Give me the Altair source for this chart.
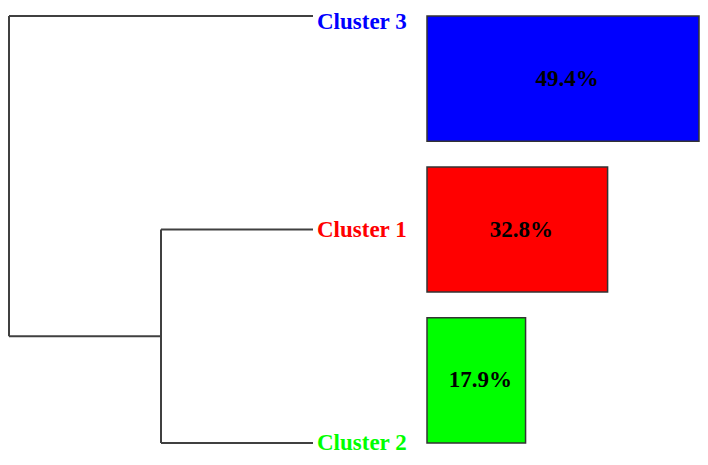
import altair as alt
import pandas as pd

# ---- data ----
clusters = ["Cluster 3", "Cluster 1", "Cluster 2"]      # leaf order, top to bottom
percentages = [49.4, 32.8, 17.9]                       # share of each cluster
colors = ["#0000FF", "#FF0000", "#00FF00"]
# linkage rows: (child a, child b, merge height); leaves are 0..2, new nodes 3, 4, ...
linkage = [(1, 2, 1.0), (0, 3, 2.0)]

# ---- build the dendrogram segments from the linkage ----
n = len(clusters)
node_y = {i: float(i) for i in range(n)}
node_h = {i: 0.0 for i in range(n)}
segs = []
for k, (a, b, h) in enumerate(linkage):
    for c in (a, b):
        segs.append({"x": node_h[c], "x2": h, "y": node_y[c], "y2": node_y[c]})
    segs.append({"x": h, "x2": h, "y": node_y[a], "y2": node_y[b]})
    node_y[n + k] = (node_y[a] + node_y[b]) / 2
    node_h[n + k] = h
seg_df = pd.DataFrame(segs)
leaf_df = pd.DataFrame({"cluster": clusters, "pos": list(range(n)), "h": [0.0] * n})
bar_df = pd.DataFrame({"cluster": clusters, "pct": percentages})

max_h = max(r[2] for r in linkage)
FONT = "Liberation Serif"
FS = 23
W1, SP, W2, H = 304, 114, 272, 427

xs = alt.Scale(domain=[0, max_h], reverse=True, nice=False, zero=False)
ys = alt.Scale(domain=[0, n - 1], reverse=True, nice=False, zero=False)
cscale = alt.Scale(domain=clusters, range=colors)

rules = alt.Chart(seg_df).mark_rule(color="#404040", strokeWidth=2).encode(
    x=alt.X("x:Q", scale=xs, axis=None),
    x2="x2:Q",
    y=alt.Y("y:Q", scale=ys, axis=None),
    y2="y2:Q",
)


def leaf_labels(dy, cond):
    return (
        alt.Chart(leaf_df)
        .transform_filter(cond)
        .mark_text(align="left", baseline="middle", dx=4, dy=dy, font=FONT,
                   fontSize=FS, fontWeight="bold")
        .encode(
            x=alt.X("h:Q", scale=xs, axis=None),
            y=alt.Y("pos:Q", scale=ys, axis=None),
            text="cluster:N",
            color=alt.Color("cluster:N", scale=cscale, legend=None),
        )
    )


left = alt.layer(
    rules,
    leaf_labels(6, "datum.pos == 0"),
    leaf_labels(0, "datum.pos > 0"),
).properties(width=W1, height=H)

ybar = alt.Y("cluster:N", sort=clusters, axis=None,
             scale=alt.Scale(paddingInner=0.17, paddingOuter=0))
xbar = alt.Scale(domain=[0, max(percentages)], nice=False)

bars = alt.Chart(bar_df).mark_bar(stroke="#333333", strokeWidth=1.5).encode(
    y=ybar,
    x=alt.X("pct:Q", scale=xbar, axis=None),
    color=alt.Color("cluster:N", scale=cscale, legend=None),
)
bar_text = (
    alt.Chart(bar_df)
    .transform_calculate(mid="datum.pct / 2", lab="format(datum.pct, '.1f') + '%'")
    .mark_text(font=FONT, fontSize=FS, fontWeight="bold", color="black", dx=4)
    .encode(y=ybar, x=alt.X("mid:Q", scale=xbar, axis=None), text="lab:N")
)
right = alt.layer(bars, bar_text).properties(width=W2, height=H)

chart = (
    alt.hconcat(left, right, spacing=SP, bounds="flush")
    .properties(padding={"left": 0, "top": 3, "right": 0, "bottom": 1}, background="white")
    .configure_view(stroke=None)
)

chart.save("out.html", embed_options={"renderer": "svg", "actions": False})
